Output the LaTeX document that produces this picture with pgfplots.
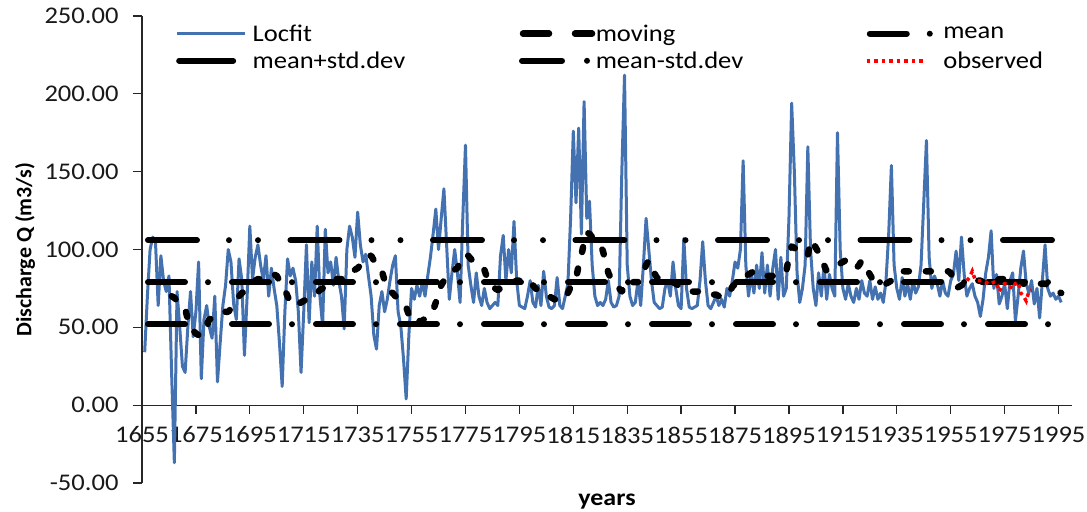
\documentclass[border=0pt]{standalone}
\usepackage{fontspec}
\setmainfont{Carlito}[FakeStretch=1.11]
\newfontfamily\ylabfont{Carlito}
\usepackage{pgfplots}
\pgfplotsset{compat=1.18}
\definecolor{locblue}{RGB}{68,114,176}
\pgfplotsset{
  legLoc/.style={legend image code/.code={\path (0bp,0bp) (75bp,0bp); \draw[##1] (1bp,0bp) -- (69bp,0bp);}},
  legMov/.style={legend image code/.code={\path (0bp,0bp) (75bp,0bp); \draw[##1, dash pattern=on 26bp off 26bp, dash phase=0bp] (4bp,0bp) -- (73bp,0bp);}},
  legMean/.style={legend image code/.code={\path (0bp,0bp) (75bp,0bp); \draw[##1, dash phase=0bp] (3bp,0bp) -- (66bp,0bp);}},
  legPlus/.style={legend image code/.code={\path (0bp,0bp) (75bp,0bp); \draw[##1, solid] (3bp,0bp) -- (57bp,0bp);}},
  legMinus/.style={legend image code/.code={\path (0bp,0bp) (75bp,0bp); \draw[##1, dash pattern=on 40bp off 25bp on 0bp off 30bp, dash phase=0bp] (3bp,0bp) -- (72bp,0bp);}},
  legObs/.style={legend image code/.code={\path (0bp,0bp) (75bp,0bp); \draw[##1] (0bp,0bp) -- (56bp,0bp);}},
}
\begin{document}
\begin{tikzpicture}
\path[use as bounding box] (-142bp,-29bp) rectangle (945bp,483bp);
\begin{axis}[
  scale only axis, width=930bp, height=467bp,
  at={(0,0)}, anchor=south west,
  xmin=1655, xmax=2000, ymin=-50, ymax=250,
  clip=false,
  axis x line=middle, axis y line=left,
  axis line style={-, line width=1.3bp, black!85},
  hide obscured x ticks=false,
  tick align=outside,
  major tick length=9bp,
  tick style={line width=1.3bp, black!85},
  xtick={1655,1675,1695,1715,1735,1755,1775,1795,1815,1835,1855,1875,1895,1915,1935,1955,1975,1995},
  xticklabels={1655,1675,1695,1715,1735,1755,1775,1795,1815,1835,1855,1875,1895,1915,1935,1955,1975,1995},
  ytick={-50,0,50,100,150,200,250},
  yticklabels={-50.00,0.00,50.00,100.00,150.00,200.00,250.00},
  tick label style={font=\fontsize{24}{28}\selectfont, text=black!90},
  xticklabel style={yshift=-9bp},
  yticklabel style={xshift=-11bp},
  every axis y label/.style={at={(axis description cs:-0.1258,0.5)}, anchor=center, rotate=90},
  every axis x label/.style={at={(axis description cs:0.5,-0.039)}, anchor=center},
  ylabel={\ylabfont\bfseries\fontsize{22}{26}\selectfont Discharge Q (m3/s)},
  xlabel={\bfseries\fontsize{23.5}{27}\selectfont years},
  legend columns=3,
  legend cell align=left,
  legend style={draw=none, fill=none, at={(axis description cs:0.0333,0.985)}, anchor=north west,
    font=\fontsize{24}{28}\selectfont, inner sep=0pt, row sep=6bp,
    nodes={inner sep=1.5bp},
    /tikz/every odd column/.append style={column sep=-3bp},
    /tikz/column 2/.append style={column sep=109bp},
    /tikz/column 4/.append style={column sep=119bp}},
]
\addplot[locblue, line width=3bp, line join=round, legLoc]
table[header=false] {
1656 34
1657 70
1658 100
1659 108
1660 105
1661 64
1662 96
1663 80
1664 73
1665 83
1666 20
1667 -37
1668 73
1669 50
1670 25
1671 21
1672 50
1673 73
1674 44
1675 60
1676 92
1677 17
1678 55
1679 64
1680 50
1681 43
1682 70
1683 15
1684 40
1685 64
1686 77
1687 100
1688 92
1689 65
1690 55
1691 94
1692 81
1693 32
1694 70
1695 115
1696 81
1697 95
1698 103
1699 90
1700 80
1701 96
1702 70
1703 88
1704 75
1705 64
1706 40
1707 12
1708 60
1709 94
1710 83
1711 88
1712 80
1713 60
1714 21
1715 60
1716 103
1717 53
1718 92
1719 70
1720 115
1721 70
1722 51
1723 113
1724 85
1725 92
1726 77
1727 95
1728 80
1729 70
1730 49
1731 100
1732 115
1733 108
1734 95
1735 124
1736 103
1737 92
1738 97
1739 83
1740 70
1741 45
1742 36
1743 64
1744 73
1745 60
1746 68
1747 80
1748 90
1749 96
1750 60
1751 51
1752 30
1753 4
1754 45
1755 75
1756 68
1757 77
1758 70
1759 79
1760 70
1761 83
1762 95
1763 110
1764 126
1765 100
1766 120
1767 139
1768 103
1769 68
1770 85
1771 100
1772 85
1773 66
1774 120
1775 167
1776 90
1777 77
1778 66
1779 85
1780 70
1781 64
1782 75
1783 66
1784 62
1785 64
1786 66
1787 64
1788 96
1789 109
1790 80
1791 100
1792 85
1793 118
1794 80
1795 64
1796 63
1797 62
1798 70
1799 80
1800 66
1801 63
1802 77
1803 64
1804 86
1805 70
1806 63
1807 62
1808 64
1809 82
1810 64
1811 62
1812 70
1813 78
1814 120
1815 176
1816 130
1817 178
1818 110
1819 195
1820 120
1821 131
1822 90
1823 70
1824 64
1825 66
1826 64
1827 68
1828 80
1829 66
1830 63
1831 64
1832 70
1833 150
1834 212
1835 90
1836 70
1837 64
1838 66
1839 80
1840 64
1841 90
1842 120
1843 100
1844 80
1845 66
1846 64
1847 62
1848 63
1849 75
1850 80
1851 70
1852 92
1853 75
1854 64
1855 62
1856 107
1857 75
1858 63
1859 62
1860 63
1861 64
1862 80
1863 105
1864 80
1865 64
1866 62
1867 66
1868 70
1869 64
1870 68
1871 63
1872 75
1873 70
1874 80
1875 92
1876 88
1877 100
1878 157
1879 90
1880 70
1881 85
1882 72
1883 90
1884 75
1885 98
1886 72
1887 90
1888 70
1889 88
1890 100
1891 68
1892 95
1893 70
1894 75
1895 120
1896 194
1897 150
1898 85
1899 66
1900 75
1901 90
1902 166
1903 100
1904 75
1905 64
1906 85
1907 70
1908 90
1909 68
1910 84
1911 75
1912 70
1913 175
1914 100
1915 75
1916 68
1917 78
1918 70
1919 66
1920 75
1921 68
1922 80
1923 72
1924 70
1925 80
1926 68
1927 76
1928 68
1929 72
1930 66
1931 80
1932 110
1933 154
1934 90
1935 75
1936 68
1937 82
1938 70
1939 78
1940 68
1941 80
1942 72
1943 76
1944 90
1945 130
1946 170
1947 95
1948 75
1949 83
1950 78
1951 70
1952 80
1953 72
1954 70
1955 80
1956 84
1957 99
1958 80
1959 108
1960 84
1961 70
1962 75
1963 78
1964 70
1965 66
1966 57
1967 68
1968 85
1969 95
1970 112
1971 75
1972 84
1973 65
1974 70
1975 78
1976 62
1977 80
1978 85
1979 54
1980 70
1981 88
1982 99
1983 78
1984 72
1985 80
1986 65
1987 75
1988 56
1989 80
1990 103
1991 75
1992 70
1993 72
1994 68
1995 70
1996 66
};
\addlegendentry{Locfit}
\addplot[black, line width=6.5bp, line cap=round, line join=round, dash pattern=on 5bp off 17bp, legMov]
table[header=false] {
1666 70
1667 69
1668 67
1669 65
1670 63
1671 62
1672 55
1673 50
1674 48
1675 46
1676 45
1677 45
1678 47
1679 52
1680 55
1681 56
1682 57
1683 57
1684 58
1685 59
1686 60
1687 60
1688 62
1689 65
1690 68
1691 70
1692 72
1693 73
1694 75
1695 77
1696 79
1697 80
1698 81
1699 81
1700 82
1701 83
1702 83
1703 84
1704 84
1705 83
1706 80
1707 77
1708 74
1709 70
1710 66
1711 64
1712 65
1713 65
1714 66
1715 67
1716 68
1717 69
1718 70
1719 71
1720 72
1721 74
1722 75
1723 77
1724 78
1725 79
1726 80
1727 81
1728 81
1729 81
1730 81
1731 82
1732 84
1733 85
1734 87
1735 88
1736 90
1737 93
1738 95
1739 96
1740 96
1741 93
1742 90
1743 88
1744 86
1745 80
1746 75
1747 73
1748 72
1749 70
1750 68
1751 66
1752 64
1753 63
1754 58
1755 54
1756 53
1757 53
1758 54
1759 54
1760 56
1761 58
1762 60
1763 61
1764 66
1765 72
1766 77
1767 80
1768 81
1769 83
1770 85
1771 87
1772 88
1773 92
1774 95
1775 97
1776 96
1777 94
1778 92
1779 90
1780 89
1781 88
1782 87
1783 82
1784 78
1785 76
1786 75
1787 74
1788 75
1789 76
1790 77
1791 77
1792 78
1793 79
1794 80
1795 80
1796 81
1797 81
1798 81
1799 79
1800 77
1801 75
1802 74
1803 73
1804 73
1805 72
1806 70
1807 69
1808 68
1809 68
1810 68
1811 68
1812 68
1813 72
1814 76
1815 79
1816 81
1817 90
1818 96
1819 105
1820 111
1821 110
1822 108
1823 106
1824 105
1825 103
1826 99
1827 92
1828 85
1829 81
1830 78
1831 77
1832 75
1833 73
1834 77
1835 80
1836 80
1837 79
1838 79
1839 79
1840 82
1841 86
1842 90
1843 93
1844 89
1845 85
1846 82
1847 81
1848 80
1849 80
1850 79
1851 79
1852 79
1853 78
1854 77
1855 76
1856 75
1857 74
1858 74
1859 73
1860 73
1861 73
1862 73
1863 73
1864 73
1865 73
1866 72
1867 71
1868 71
1869 70
1870 70
1871 70
1872 70
1873 73
1874 76
1875 78
1876 79
1877 81
1878 82
1879 83
1880 84
1881 85
1882 86
1883 85
1884 84
1885 84
1886 83
1887 83
1888 83
1889 83
1890 83
1891 84
1892 85
1893 86
1894 86
1895 95
1896 102
1897 101
1898 100
1899 98
1900 97
1901 96
1902 96
1903 106
1904 104
1905 101
1906 98
1907 96
1908 90
1909 86
1910 87
1911 88
1912 89
1913 90
1914 91
1915 92
1916 93
1917 92
1918 90
1919 88
1920 88
1921 90
1922 93
1923 90
1924 87
1925 84
1926 81
1927 80
1928 79
1929 78
1930 78
1931 78
1932 79
1933 80
1934 82
1935 84
1936 85
1937 86
1938 86
1939 86
1940 86
1941 86
1942 86
1943 86
1944 86
1945 86
1946 86
1947 86
1948 86
1949 86
1950 86
1951 86
1952 86
1953 86
1954 86
1955 85
1956 80
1957 75
1958 76
1959 77
1960 78
1961 78
1962 79
1963 79
1964 79
1965 80
1966 80
1967 79
1968 79
1969 78
1970 78
1971 79
1972 80
1973 81
1974 81
1975 81
1976 80
1977 80
1978 80
1979 79
1980 79
1981 79
1982 78
1983 78
1984 78
1985 78
1986 78
1987 78
1988 78
1989 78
1990 78
1991 77
1992 76
1993 75
1994 74
1995 73
1996 72
};
\addlegendentry{moving}
\addplot[black, line width=6bp, line cap=round, dash pattern=on 37bp off 23bp on 0bp off 24bp, dash phase=80.7bp, legMean]
coordinates {(1656,79) (1996,79)};
\addlegendentry{mean}
\addplot[black, line width=6bp, line cap=round, dash pattern=on 49bp off 32bp on 0bp off 29bp on 0bp off 32.5bp, dash phase=139.2bp, legPlus]
coordinates {(1656,106) (1996,106)};
\addlegendentry{mean+std.dev}
\addplot[black, line width=6bp, line cap=round, dash pattern=on 37bp off 23bp on 0bp off 24bp, dash phase=80.7bp, legMinus]
coordinates {(1656,52) (1996,52)};
\addlegendentry{mean-std.dev}
\addplot[red, line width=3.5bp, dash pattern=on 3.5bp off 4bp, legObs]
table[header=false] {
1961 80
1962 82
1963 86
1964 81
1965 80
1966 80
1967 80
1968 79
1969 78
1970 78
1971 79
1972 79
1973 73
1974 76
1975 78
1976 78
1977 76
1978 75
1979 78
1980 79
1981 72
1982 70
1983 67
1984 73
1985 74
};
\addlegendentry{observed}
\end{axis}
\end{tikzpicture}
\end{document}
